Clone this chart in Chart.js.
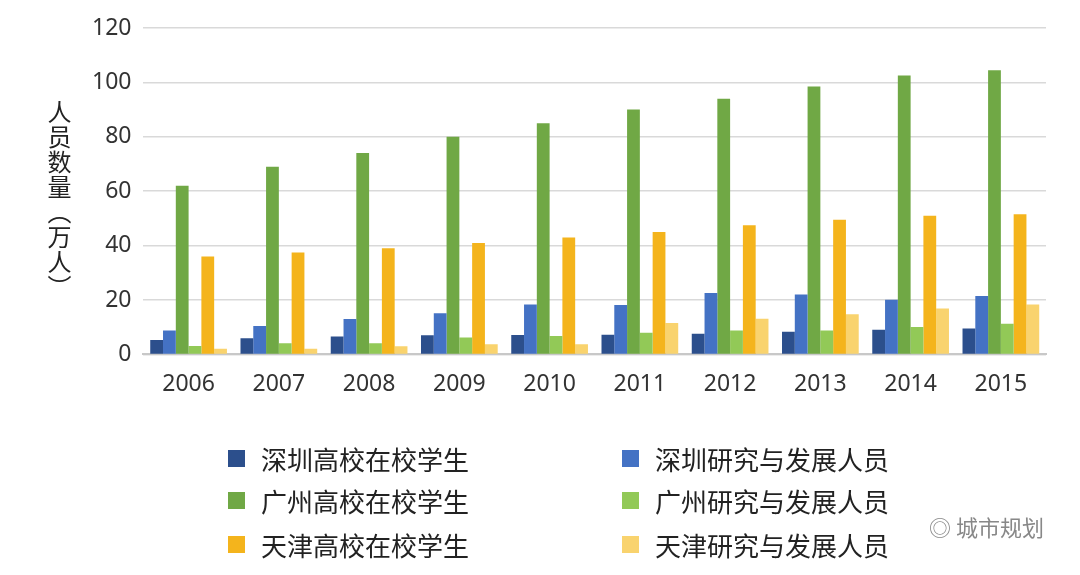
<!DOCTYPE html>
<html>
<head>
<meta charset="utf-8">
<script src="https://cdn.jsdelivr.net/npm/chart.js@4"></script>
<style>
  body { margin: 0; background: #fff; font-family: "Noto Sans CJK SC", sans-serif; }
  #wrap { position: relative; width: 1080px; height: 575px; }
  #ytitle { position: absolute; left: 42px; top: 100px; writing-mode: vertical-rl; font-size: 24px; color: #222; letter-spacing: 1px; }
  .leg { position: absolute; font-size: 26px; color: #222; display: flex; align-items: center; }
  .leg span { display: inline-block; width: 17px; height: 17px; margin-right: 16px; }
  #mark { position: absolute; right: 36px; top: 510px; font-size: 22px; color: #888; }
</style>
</head>
<body>
<div id="wrap">
  <canvas id="BarChart" width="1080" height="575"></canvas>
  <div id="ytitle">人员数量（万人）</div>
  <div id="legend"></div>
  <div id="mark">◎ 城市规划</div>
</div>
<script>
  const years = ['2006', '2007', '2008', '2009', '2010', '2011', '2012', '2013', '2014', '2015'];
  const seriesNames = ['深圳高校在校学生', '深圳研究与发展人员', '广州高校在校学生', '广州研究与发展人员', '天津高校在校学生', '天津研究与发展人员'];
  const seriesColors = ['#2c4f8c', '#4472c4', '#70a845', '#92c957', '#f4b41c', '#f9d36e'];
  const szStudents = [5.3, 5.9, 6.6, 7.0, 7.1, 7.2, 7.6, 8.3, 9.1, 9.5];
  const szRD = [8.8, 10.4, 13.0, 15.1, 18.3, 18.2, 22.6, 22.0, 20.1, 21.5];
  const gzStudents = [62, 69, 74, 80, 85, 90, 94, 98.5, 102.5, 104.5];
  const gzRD = [3.1, 4.1, 4.1, 6.2, 6.8, 8.0, 8.8, 8.8, 10.1, 11.3];
  const tjStudents = [36, 37.5, 39, 41, 43, 45, 47.5, 49.5, 51, 51.5];
  const tjRD = [2.1, 2.1, 3.0, 3.7, 3.7, 11.5, 13.1, 14.8, 16.9, 18.3];
  const yTicks = [0, 20, 40, 60, 80, 100, 120];

  const allSeries = [szStudents, szRD, gzStudents, gzRD, tjStudents, tjRD];

  function drawLegend() {
    const legend = document.getElementById('legend');
    const pos = [[228, 440], [622, 440], [228, 482], [622, 482], [228, 526], [622, 526]];
    seriesNames.forEach((name, i) => {
      const item = document.createElement('div');
      item.className = 'leg';
      item.style.left = pos[i][0] + 'px';
      item.style.top = pos[i][1] + 'px';
      item.innerHTML = `<span style="background:${seriesColors[i]}"></span>${name}`;
      legend.appendChild(item);
    });
  }

  function drawChart() {
    const ctx = document.getElementById('BarChart').getContext('2d');
    new Chart(ctx, {
      type: 'bar',
      data: {
        labels: years,
        datasets: allSeries.map((d, i) => ({
          label: seriesNames[i],
          data: d,
          backgroundColor: seriesColors[i],
          categoryPercentage: 0.85,
          barPercentage: 1.0
        }))
      },
      options: {
        responsive: false,
        animation: false,
        layout: { padding: { left: 80, right: 34, top: 28, bottom: 169 } },
        plugins: { legend: { display: false }, tooltip: { enabled: false } },
        scales: {
          x: {
            grid: { display: false },
            border: { color: '#c8c8c8', width: 2 },
            ticks: { color: '#333', font: { size: 23, family: 'Noto Sans' }, padding: 8 }
          },
          y: {
            min: 0, max: 120,
            afterBuildTicks: axis => { axis.ticks = yTicks.map(v => ({ value: v })); },
            grid: { color: '#d9d9d9', lineWidth: 1.5, drawTicks: false },
            border: { display: false },
            ticks: { color: '#333', font: { size: 23, family: 'Noto Sans' }, padding: 12 }
          }
        }
      }
    });
  }

  document.addEventListener('DOMContentLoaded', () => {
    drawChart();
    drawLegend();
  });
</script>
</body>
</html>
